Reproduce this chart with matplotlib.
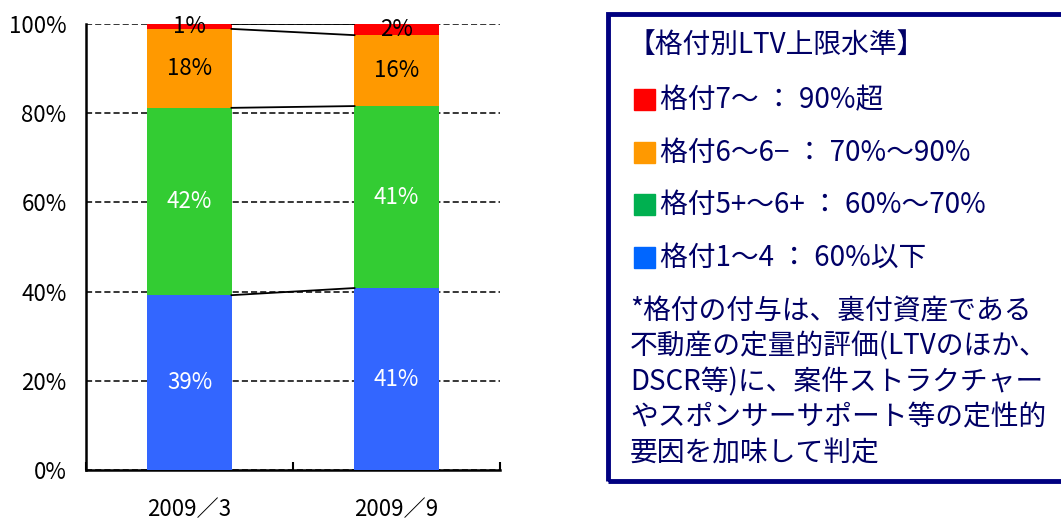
import numpy as np
import matplotlib.pyplot as plt
from matplotlib.patches import Rectangle

plt.rcParams['font.family'] = ['Noto Sans CJK JP', 'DejaVu Sans']

# data (share of ratings, %)
periods = ['2009／3', '2009／9']
blue = [39.2, 40.8]     # 格付1～4
green = [42.0, 40.8]    # 格付5+～6+
orange = [17.7, 15.9]   # 格付6～6-
red = [1.1, 2.5]        # 格付7～
blue_lbl = ['39%', '41%']
green_lbl = ['42%', '41%']
orange_lbl = ['18%', '16%']
red_lbl = ['1%', '2%']

legend_items = ['格付7～ ： 90%超', '格付6～6− ： 70%～90%',
                '格付5+～6+ ： 60%～70%', '格付1～4 ： 60%以下']
legend_cols = ['#FF0000', '#FF9900', '#00B050', '#0066FF']
note_lines = ['*格付の付与は、裏付資産である',
              '不動産の定量的評価(LTVのほか、',
              'DSCR等)に、案件ストラクチャー',
              'やスポンサーサポート等の定性的',
              '要因を加味して判定']

fig = plt.figure(figsize=(10.61, 5.2), dpi=100)
ax = fig.add_axes([86/1061, 1-470/520, 414/1061, 446/520])

x = np.arange(len(periods))
w = 0.406
series = [(blue, '#3366FF', blue_lbl, 'white'),
          (green, '#33CC33', green_lbl, 'white'),
          (orange, '#FF9900', orange_lbl, 'black'),
          (red, '#FF0000', red_lbl, 'black')]
bottom = np.zeros(len(periods))
tops = []
for vals, col, lbls, tcol in series:
    vals = np.array(vals)
    ax.bar(x, vals, w, bottom=bottom, color=col, zorder=3)
    for i in range(len(x)):
        yc = bottom[i] + vals[i] / 2
        ax.text(x[i], yc, lbls[i], ha='center', va='center',
                color=tcol, fontsize=16, zorder=5)
    bottom = bottom + vals
    tops.append(bottom.copy())

# series lines between the bars
for t in tops:
    ax.plot([x[0] + w/2, x[1] - w/2], [t[0], t[1]], color='black', lw=1.3, zorder=4)

ax.set_xlim(-0.5, 1.5)
ax.set_ylim(0, 100)
ax.set_yticks(np.arange(0, 101, 20))
ax.set_yticklabels([f'{v}%' for v in range(0, 101, 20)], fontsize=16)
ax.set_xticks(x)
ax.set_xticklabels(periods, fontsize=16)
ax.set_xticks([-0.5, 0.5, 1.5], minor=True)
ax.tick_params(axis='x', which='major', length=0, pad=20)
ax.tick_params(axis='x', which='minor', direction='in', length=6, width=1.5)
ax.tick_params(axis='y', length=0, pad=14)
ax.yaxis.grid(True, color='black', linestyle=(0, (4, 2)), lw=1.1)
ax.set_axisbelow(True)
for s in ['top', 'right']:
    ax.spines[s].set_visible(False)
for s in ['left', 'bottom']:
    ax.spines[s].set_linewidth(1.8)

# legend / note box
navy = '#000066'
fs = 20
fig.patches.append(Rectangle((608/1061, 1-481/520), 470/1061, 467/520,
                             transform=fig.transFigure, fill=False,
                             edgecolor='#000080', lw=3.5))
fig.text(628/1061, 1-45/520, '【格付別LTV上限水準】', fontsize=fs,
         color=navy, va='center')
for k, (txt, col) in enumerate(zip(legend_items, legend_cols)):
    yy = 1 - (100 + k * 52.5) / 520
    fig.patches.append(Rectangle((634/1061, yy - 10/520), 21/1061, 21/520,
                                 transform=fig.transFigure, color=col))
    fig.text(660/1061, yy, txt, fontsize=fs, color=navy, va='center')
for k, line in enumerate(note_lines):
    fig.text(630/1061, 1 - (311 + k * 35.5) / 520, line, fontsize=fs,
             color=navy, va='center')

fig.savefig('out.png', dpi=100)
